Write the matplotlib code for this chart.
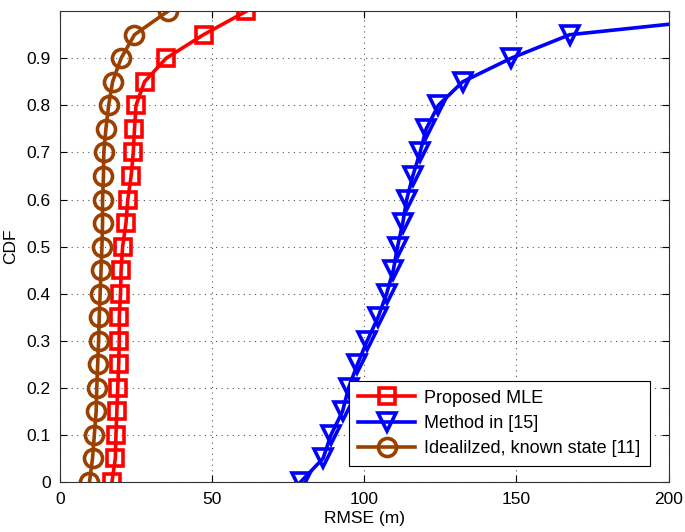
import numpy as np
import matplotlib.pyplot as plt

plt.rcParams['font.family'] = ['Liberation Sans', 'DejaVu Sans']

cdf = np.round(np.arange(0, 1.0001, 0.05), 2)

rmse_mle = [17.0, 18.1, 18.3, 18.6, 18.9, 19.2, 19.4, 19.4, 19.8, 20.0, 20.5,
            21.6, 22.2, 23.3, 24.0, 24.4, 24.9, 27.7, 34.8, 47.1, 61.2]
rmse_ref15 = [79.0, 86.4, 89.0, 92.8, 94.8, 97.7, 100.9, 104.5, 107.3, 109.5, 110.9,
              112.6, 113.9, 115.9, 118.3, 120.3, 124.3, 132.3, 148.2, 167.5, 241.0]
rmse_ideal = [9.6, 10.6, 11.2, 11.8, 12.0, 12.3, 12.6, 12.8, 13.1, 13.4, 13.7,
              13.9, 13.9, 14.2, 14.3, 15.0, 15.9, 17.2, 20.0, 24.4, 35.4]

labels = ['Proposed MLE', 'Method in [15]', 'Idealilzed, known state [11]']


def run_main():
    fig = plt.figure(figsize=(6.85, 5.32), dpi=100)
    ax = fig.add_axes([0.088, 0.094, 0.888, 0.885])

    ax.plot(rmse_mle, cdf, color='#ff0000', lw=2.6, marker='s', ms=11,
            mfc='none', mew=2.6, label=labels[0])
    ax.plot(rmse_ref15, cdf, color='#0000ff', lw=2.6, marker='v', ms=13,
            mfc='none', mew=2.6, label=labels[1])
    ax.plot(rmse_ideal, cdf, color='#9a4000', lw=2.6, marker='o', ms=13,
            mfc='none', mew=2.6, label=labels[2])

    ax.set_xlim(0, 200)
    ax.set_ylim(0, 1)
    ax.set_xticks([0, 50, 100, 150, 200])
    ax.set_yticks(np.round(np.arange(0, 0.91, 0.1), 1))
    ax.set_yticklabels(['0', '0.1', '0.2', '0.3', '0.4', '0.5', '0.6', '0.7', '0.8', '0.9'])
    ax.grid(True, linestyle=(0, (1, 4)), color='#555555', lw=0.8)
    ax.tick_params(direction='in', labelsize=12.5, top=True, right=True,
                   length=5, pad=7)
    for s in ax.spines.values():
        s.set_color('#333333')
    ax.set_xlabel('RMSE (m)', fontsize=12.5, labelpad=3)
    ax.set_ylabel('CDF', fontsize=12.5, labelpad=6)

    leg = ax.legend(loc='lower right', bbox_to_anchor=(0.969, 0.034), fontsize=13,
                    fancybox=False, framealpha=1, edgecolor='black',
                    handlelength=3.2, borderpad=0.5, labelspacing=0.45,
                    handletextpad=0.5, borderaxespad=0)
    leg.get_frame().set_linewidth(0.8)

    fig.savefig('out.png', dpi=100)


if __name__ == "__main__":
    run_main()
